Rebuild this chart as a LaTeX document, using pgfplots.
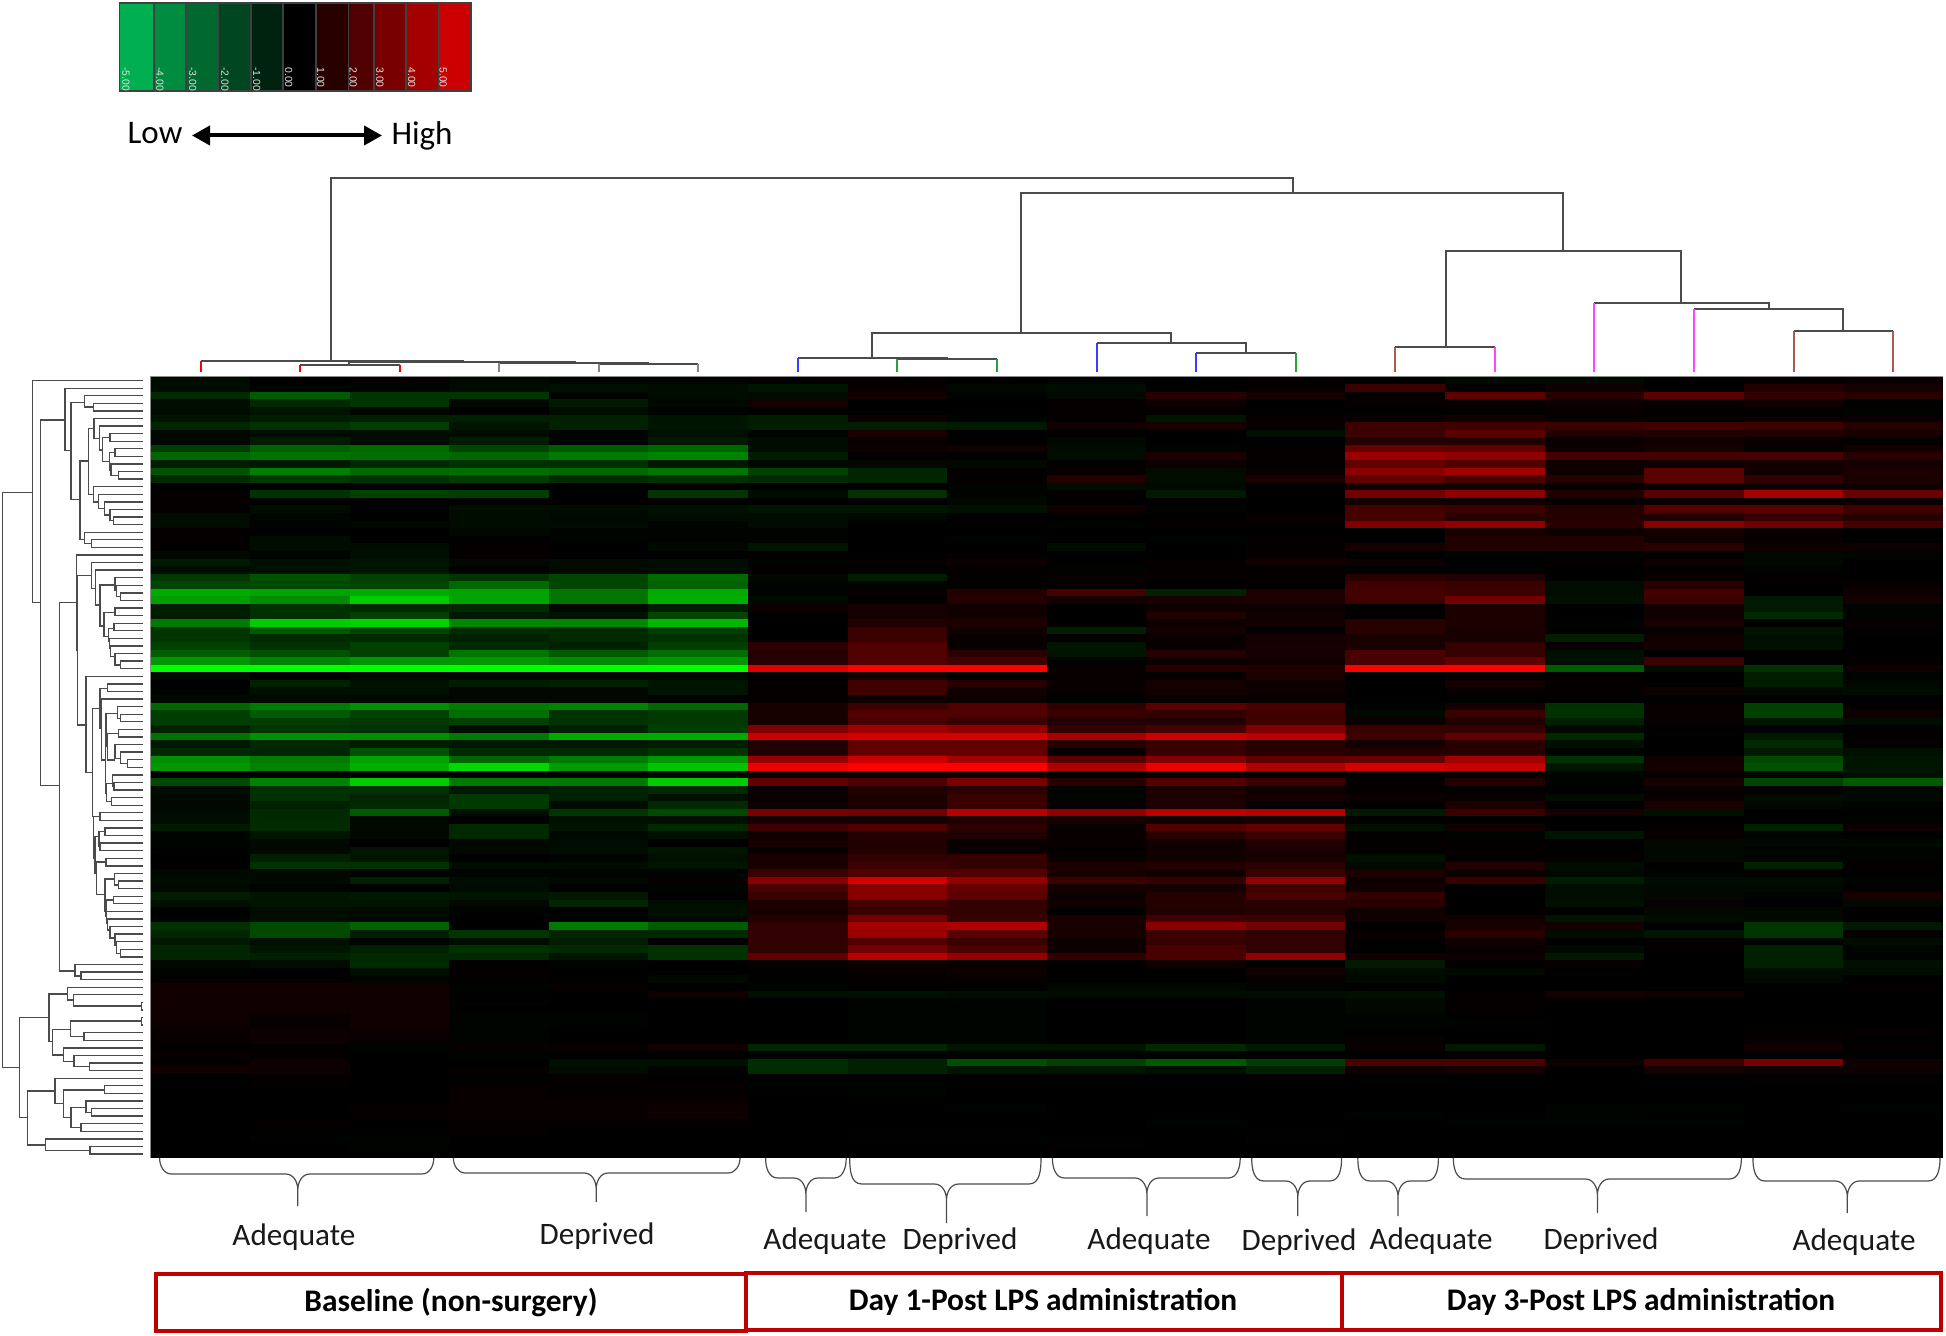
\documentclass[border=0pt]{standalone}
\usepackage{fontspec}
\setmainfont{Carlito}
\newfontfamily\libsans{Liberation Sans}
\usepackage{pgfplots}
\usepackage{pgfplotstable}
\pgfplotsset{compat=1.18}
\usetikzlibrary{arrows.meta}

\definecolor{boxred}{RGB}{192,0,0}
\definecolor{lineg}{RGB}{75,75,75}
\definecolor{leafgray}{RGB}{135,135,135}
\definecolor{leafblue}{RGB}{60,60,255}
\definecolor{leafgreen}{RGB}{40,160,60}
\definecolor{leafmag}{RGB}{255,70,255}
\definecolor{leafbrown}{RGB}{170,90,80}
\definecolor{k1}{RGB}{0,176,80}
\definecolor{k2}{RGB}{0,140,64}
\definecolor{k3}{RGB}{0,105,48}
\definecolor{k4}{RGB}{0,70,32}
\definecolor{k5}{RGB}{0,35,16}
\definecolor{k6}{RGB}{0,0,0}
\definecolor{k7}{RGB}{40,0,0}
\definecolor{k8}{RGB}{80,0,0}
\definecolor{k9}{RGB}{120,0,0}
\definecolor{k10}{RGB}{165,0,0}
\definecolor{k11}{RGB}{204,0,0}

% one cell of the heat map, 99.57 x 7.58 px at 0.5pt per px
\pgfdeclareplotmark{cell}{%
  \pgfpathrectangle{\pgfpoint{-24.93pt}{-1.93pt}}{\pgfpoint{49.86pt}{3.86pt}}%
  \pgfusepathqfill}

% 103 rows, 18 samples; 1 unit = 40/255 of full colour
\pgfplotstableread[header=false]{
-0.3 0 0.15 -0.2 -0.1 -0.1 0.1 0.1 0 -0.1 0 0.1 0 -0.2 -0.2 0 0.1 0.2
-0.3 -0.1 -0.1 -0.3 -0.4 -0.3 -0.5 0.2 -0.2 -0.3 0 0.1 1.4 0.1 0.3 0 0.8 0.5
-1.0 -2.2 -1.3 -1.3 -0.1 -0.3 -0.2 0.4 -0.1 -0.2 1.0 0.5 0.1 2.3 1.0 2.2 1.2 1.0
-0.3 -1.0 -1.3 -0.2 -0.6 -0.2 0.5 0 0 0.1 0.3 0 0.2 0.2 0.3 0.2 0.4 0
-0.3 -0.5 -0.2 0 -0.3 -0.1 0 0 0 0.1 0.1 0 0 0.1 0.2 0.1 0.1 -0.1
-0.5 -0.7 -0.8 -0.8 -0.8 -0.5 -0.7 0.3 -0.1 0.1 -0.5 0.2 0.2 0.4 0.1 0.1 0.2 0.2
-0.9 -1.2 -1.5 -0.5 -0.8 -0.5 -0.7 -0.7 -0.6 0.4 0.6 0.2 1.5 1.6 1.5 1.6 1.5 0.9
-0.2 -0.3 -0.3 -0.3 -0.1 -0.4 -0.1 0.6 0 0 0 -0.4 1.5 2.2 0.8 0.8 0.8 0.6
-0.2 -0.7 -0.3 -0.7 -0.1 -0.6 -0.3 0.2 0 -0.2 0 0 0.8 0.8 0.2 0.4 0.2 0.1
-1.5 -2.4 -2.6 -1.7 -2.2 -2.5 -0.3 0.3 0.4 -0.3 -0.1 0.1 2.5 2.4 0.3 0.5 0.1 0.4
-2.5 -2.8 -2.7 -2.5 -3.0 -3.2 -0.7 0.1 0 -0.3 0.7 0.1 3.8 3.5 1.7 1.7 1.8 1.0
-0.7 -0.6 -1.0 -1.2 -1.2 -0.6 -0.2 -0.2 -0.2 0.1 0.3 0.1 2.4 2.0 0.3 0.4 0.5 0.5
-2.0 -3.1 -2.6 -2.7 -2.6 -2.9 -1.6 -0.9 0.1 0.2 -0.3 0.2 3.4 4.0 0.3 2.2 0.4 0.7
-1.0 -1.4 -1.2 -1.5 -1.0 -1.2 -1.0 -0.9 0.1 0.9 -0.3 0.7 2.4 1.8 1.0 2.2 1.2 0.7
0 0 0 0 0 0 0 0 -0.1 -0.3 -0.2 0 0.4 0.4 0.1 0.2 0.3 0.3
0.05 -1.2 -1.6 -1.5 0 -1.3 -0.3 -1.2 -0.1 0.1 -0.6 0 2.8 3.5 0.8 2.2 4.1 2.6
0.1 0 0 0 0 0 0 0 -0.2 0 0 0 0.4 0.4 0.2 0.2 0.2 0.2
0.05 -0.3 0 -0.3 -0.3 -0.4 -0.5 -0.5 -0.4 0.4 -0.1 0 1.7 1.5 0.9 2.1 2.2 1.6
-0.3 -0.1 0 -0.3 -0.2 -0.3 -0.3 -0.2 0 0 0 0.2 1.7 1.0 0.9 0.8 1.3 1.0
-0.3 -0.1 -0.2 -0.3 -0.3 -0.1 -0.3 0 0.1 -0.1 0.1 0.1 3.1 3.5 1.0 3.2 2.7 1.7
0.05 0 0 -0.2 -0.1 -0.1 -0.1 0 0 0 0 0 0 0.6 0.3 0.5 0.2 0
0.1 -0.3 0 0 -0.1 -0.1 -0.1 0 -0.1 0 -0.1 0.1 0 0.8 0.8 0.4 0.2 0
0.1 -0.3 -0.3 0.1 0 -0.2 -0.5 0 0 -0.3 0 0.1 0.5 0.8 0.8 1.0 0.3 0.3
-0.2 -0.1 -0.4 0.1 0 0 0.1 0 0.1 0 0 0.2 0 -0.1 -0.1 0 -0.2 -0.1
-0.6 -0.4 -0.5 -0.2 -0.3 -0.3 -0.1 0.2 0.3 0 0.1 0.4 0.3 0 0.1 0.3 -0.2 0
-0.3 -0.4 -0.5 0 -0.2 -0.3 0.1 0 0.1 -0.1 0.1 0.1 0 0 0 0.1 -0.1 0
-1.4 -2.0 -1.6 -1.3 -1.7 -2.6 -0.2 -0.7 0.1 0.2 0.1 0.1 1.0 0.8 0 0.2 0.1 0
-1.7 -1.8 -1.7 -2.6 -1.7 -2.4 -0.1 -0.1 0.1 0.1 0 0 1.6 1.4 -0.3 1.0 0 0.2
-4.2 -4.0 -4.2 -4.0 -2.9 -4.2 -0.1 0.2 0.8 1.7 -0.8 0.7 1.7 1.5 -0.3 1.6 0 0.3
-3.9 -3.4 -5.0 -4.0 -2.9 -4.3 -0.2 0.1 0.9 0.5 0.6 0.7 1.6 2.8 -0.4 1.5 -0.6 0.5
-0.7 -1.2 -1.0 -1.0 -0.2 -0.7 0.3 0.5 0.4 0 0.3 0.3 0 0.7 0 0.4 -0.6 -0.1
-0.7 -1.2 -1.6 -0.6 -0.5 -1.7 0 0.5 0.4 0 0.8 0.4 0 0.7 0 0.4 -1.0 -0.1
-3.0 -5.0 -5.2 -3.3 -3.3 -4.5 0 0.8 0.7 0 0.3 0.4 1.0 0.7 -0.1 0.6 0 0.2
-1.3 -2.2 -1.7 -1.1 -1.0 -1.5 0 1.4 0.4 -0.8 0.5 0 1.0 0.6 0.1 0.1 -0.5 0
-1.3 -1.0 -1.0 -0.8 -1.0 -1.2 0 1.4 0.2 0.1 0.2 0.5 0.6 0.6 -0.7 0.4 -0.4 0
-1.6 -1.2 -1.6 -1.0 -0.8 -1.5 1.1 2.0 0.2 -0.5 0.2 0.6 0.6 1.3 0.2 0.5 -0.4 0
-2.3 -2.0 -1.6 -2.9 -2.2 -2.7 0.9 2.0 1.0 -0.5 0.9 0.6 1.8 1.3 -0.4 0 0 0
-3.7 -3.2 -3.7 -3.7 -3.4 -3.7 0.9 2.0 1.6 -0.1 0.3 0.4 1.8 2.4 -0.4 1.5 0 0.1
-6.25 -6.25 -6.25 -6.25 -6.25 -6.25 5.4 6.25 6.25 0.2 0.9 0.8 6.25 6.25 -2.2 -0.3 -1.2 0.3
-0.3 0 -0.2 -0.2 -0.2 -0.2 0.1 0.5 0.1 0.2 0.1 0.7 0 0.1 0.1 0 -0.7 -0.1
0 -0.8 -0.4 -0.7 -0.8 -0.5 0.1 1.6 1.0 0.2 0.5 0.3 0 0.5 0.1 0 -0.7 -0.2
-0.1 -0.4 -0.4 -0.2 -0.2 -0.5 0.1 1.6 0.4 0.2 0.4 0.3 0 0.2 0.1 0.3 -0.2 -0.3
-0.2 -0.2 -0.2 -0.2 -0.2 0 0.1 0.3 0.3 0 0.2 0.2 0 0 0 0 0 0
-2.5 -3.0 -3.5 -3.0 -3.2 -2.5 0.6 1.5 2.0 1.2 2.2 1.8 -0.1 0.5 -1.2 0.2 -1.6 0.1
-1.5 -2.2 -1.6 -2.7 -1.2 -1.4 0.6 2.0 2.0 1.4 1.2 1.6 -0.2 1.4 -1.2 0.2 -1.6 0.3
-1.5 -1.5 -1.4 -1.6 -1.2 -1.4 0.6 1.8 1.4 0.8 0.8 1.6 0.3 0.8 -0.8 0.2 -0.5 -0.3
-0.8 -1.3 -1.2 -0.3 -0.8 -1.5 3.1 3.9 3.5 1.3 1.7 3.1 1.4 1.2 -0.2 0 0 0
-2.8 -3.5 -3.5 -3.0 -4.2 -4.2 4.9 5.2 5.2 4.1 5.0 4.5 1.5 2.4 -1.0 0 -0.6 0.1
-0.6 -1.0 -0.7 -0.6 -0.6 -0.7 0.8 2.4 2.4 1.0 1.4 1.0 0.5 1.0 -0.4 0 -1.0 0.1
-1.0 -0.9 -2.0 -1.0 -1.0 -1.3 0.8 2.4 2.4 0.2 1.4 1.0 0.9 1.0 -0.1 0 -0.6 -0.4
-3.5 -3.0 -4.0 -2.5 -3.0 -3.7 3.7 5.0 4.1 2.2 3.2 2.4 2.5 4.0 -1.2 0.4 -1.8 -0.5
-3.7 -3.2 -4.3 -5.3 -3.8 -4.8 5.8 6.25 6.25 4.3 5.8 4.3 5.2 4.8 -0.5 0.5 -2.0 -0.5
0 -0.1 -0.1 -0.1 -0.1 -0.2 0.3 0.3 0.3 0 0.2 0.2 0.1 0.1 -0.1 0.2 -0.2 -0.4
-1.8 -3.2 -5.0 -3.0 -3.0 -5.0 2.4 1.9 3.0 1.0 2.1 1.5 0.1 0.9 -0.1 0.6 -1.7 -2.2
-0.3 -1.2 -1.2 -0.6 -0.8 -1.0 0.2 0.8 1.0 -0.1 0.7 0.3 0.1 0.1 0 0.2 0 -0.2
-0.2 -1.2 -0.9 -1.4 -0.8 -0.4 0.2 0.7 1.4 -0.1 0.7 0.5 0.3 0.2 -0.3 0.2 -0.3 -0.2
-0.2 -0.8 -1.0 -1.4 -0.3 -1.0 0.3 0.7 1.4 0.2 0.7 0.1 0 0.7 0 0.7 -0.2 -0.1
-0.3 -1.0 -2.2 -0.4 -1.3 -1.8 3.0 2.8 4.5 3.5 4.6 4.4 -0.6 1.4 0.6 -0.4 0 0
-0.3 -1.0 -0.2 0 -0.4 -0.4 0.5 0.5 0.8 0.6 0.4 0.5 0 0 0 0 0 -0.1
-0.6 -1.1 -0.2 -1.0 -0.5 -1.0 1.6 2.0 1.1 0.2 2.0 2.4 -0.4 0.4 0 0.1 -0.8 0.3
-0.1 -0.5 -0.2 -1.0 -0.2 -0.4 0.4 0.9 0.8 0.2 1.0 1.5 0.1 -0.1 -0.5 0.2 -0.1 0
-0.1 -0.2 0 -0.2 -0.3 0 0.6 0.8 0.2 0.2 0.4 0.8 0.1 0.1 0 -0.2 -0.2 -0.2
-0.1 -0.2 -0.5 -0.2 -0.3 -0.5 0.2 0.8 0.2 0.1 0.4 0.6 0.1 0.1 0 -0.2 -0.1 -0.1
0 -0.8 -0.5 0 -0.1 -0.4 0.6 1.2 1.3 0.2 0.4 0.6 -0.4 0.1 0.1 -0.2 -0.1 -0.1
0 -1.2 -1.2 -0.3 -0.3 -0.5 0.6 1.5 1.3 0.7 0.9 1.0 -0.2 0.8 -0.3 0.1 -0.8 0.1
-0.2 -0.2 -0.1 -0.1 -0.1 -0.1 1.4 2.0 2.0 0.6 0.4 1.4 0.7 0.3 -0.2 -0.1 0.1 0
-0.3 -0.2 -0.8 -0.3 -0.2 0.2 3.4 5.2 3.6 1.5 1.3 3.6 0.3 1.3 -0.7 -0.3 -0.3 -0.1
-0.2 -0.1 0 -0.3 0 -0.1 1.8 3.3 2.5 0.5 0.5 1.6 0.4 0 -0.3 -0.2 -0.2 0.1
-0.7 -0.5 -0.6 -0.5 -0.6 0 1.4 3.3 2.2 0.3 0.9 1.8 1.2 0 -0.3 -0.2 -0.1 0.6
-0.4 -0.5 -0.5 -0.2 -0.9 -0.3 0.7 1.7 1.2 0.4 0.9 1.0 1.0 0 -0.4 0.2 0 -0.2
0 -0.3 -0.3 -0.1 0 -0.4 0.6 1.4 1.2 0 0.8 0.9 0.4 0 0 -0.2 -0.2 0
-0.1 -0.3 -0.2 0 -0.1 -0.2 0.8 2.8 1.3 0.6 1.6 1.4 0.4 0.4 -0.5 -0.3 -0.2 0
-1.2 -1.8 -2.4 0 -3.0 -2.2 1.2 4.0 4.3 0.6 3.4 2.8 0 0.6 0.5 0 -1.3 -0.6
-0.9 -1.8 -0.7 -1.3 -0.9 -1.0 1.2 3.8 2.2 0.6 1.5 1.2 0.2 1.0 -0.3 -0.5 -1.3 0.2
-0.6 -0.4 -0.1 -0.3 -0.7 0 1.2 2.0 1.4 0.3 1.3 1.2 0.1 0.4 0 0.1 -0.1 -0.3
-0.9 -0.5 -0.8 -1.2 -1.0 -1.2 1.2 2.8 1.9 0.3 1.8 1.2 0 0.2 -0.2 0.1 -0.8 -0.1
-0.9 -0.8 -1.0 -1.0 -0.5 -1.2 2.3 4.5 3.6 1.2 1.8 3.5 0.4 0.3 -0.6 0 -0.8 -0.1
-0.2 -0.3 -1.0 0.1 -0.1 0 0.2 0.3 0.2 0 0.4 0 -0.6 0.1 0.2 0 -0.8 -0.4
-0.1 0 -0.4 0.1 0 0 0 0.2 0.3 0 0 0.4 -0.3 -0.2 0 0 -0.3 -0.3
0.1 0.1 -0.1 0.1 0 -0.2 0 0.1 0.2 0 0 0.2 -0.2 0 0 0 -0.2 0
0.4 0.4 0.4 -0.1 0.2 0 -0.1 0 0 -0.2 -0.2 -0.1 0 0 0 0 0 0.1
0.4 0.4 0.4 0 0 0.4 -0.4 -0.4 -0.3 -0.3 -0.3 -0.3 -0.4 0.1 0.5 0.4 0 0
0.4 0.4 0.4 -0.1 0 0 0 -0.1 -0.1 0 0 -0.1 -0.2 0.1 0 0 0 0
0.4 0.4 0.4 0 0 0 0 -0.1 -0.1 0 0 -0.1 -0.2 0.1 0 0 0 0
0.4 0.2 0.4 -0.1 -0.1 0 0 -0.1 -0.1 0 0 -0.1 -0.1 0 0 0 0 0
0.3 0.2 0.4 -0.1 -0.1 0 0 -0.1 -0.1 0 0 -0.1 -0.1 -0.1 0 0 0 0
0.2 0.3 0.3 -0.1 0 0 0 -0.1 -0.1 0 0 -0.1 0 0 0 0 0.1 0.1
0.2 0.3 0.2 -0.1 0 0 0 -0.1 -0.1 0 0 -0.1 0.2 0 0 0 0.2 0
0.1 0.1 -0.1 0.2 0.2 0.4 -0.9 -0.9 -0.5 -0.5 -1.0 -0.6 0.2 -0.6 0 0 0.4 0.1
0.2 0.1 0 -0.1 0 0 -0.1 -0.1 -0.1 -0.1 -0.1 0 0 0.1 0 0 0 0
0.1 0.3 0 0 -0.4 -0.4 -1.1 -0.8 -1.9 -1.6 -2.2 -1.5 1.8 1.8 0.3 1.5 3.0 0.4
0.4 0.3 0 0.2 -0.3 -0.1 -1.1 -0.8 -0.5 -0.5 -0.4 -0.8 0.3 0.5 0 0.5 0.3 0.3
0 0.1 0 0 0.1 0 0 0 0 0 0 0 0 0 0 0 0 0
0 0.1 0 0.1 0.1 0.1 -0.1 -0.1 0 0 0 0 0 0 0 0 0 0
0 0 0 0.2 0.1 0.1 0 -0.1 0 0 0 0 0 0 0 0 0 0
0 0 0 0.2 0.2 0.2 0 0 0 0 0 0 0 0 0 0 0 0
0 0 0.1 0.2 0.2 0.3 0 0 -0.1 0 0 0 0 0 -0.1 -0.1 0 -0.1
0 0 0.1 0.2 0.2 0.3 0 0 0 0 0 0 -0.1 0 -0.1 0 0 0
0 0.1 0 0.1 0.1 0.1 0 0 0 0 -0.1 0 0 -0.1 -0.1 -0.1 0 0
0 0 0 0.1 0 0 0 0 0 0 0 0 0 0 0 0 0 0
0 -0.1 -0.1 0 0 0 0 -0.1 -0.1 0 0 -0.1 0 0 0 0 0 0
0 0 -0.1 0 0 0 0 0 0 0.1 0 0 0 0 0 0 0 0
0 0 0 0 0 0 0 0 0 0 0 0 0 0 0 0 0 0
}\heat

\pgfplotsset{
  lden/.style={draw=lineg, line width=0.8pt},
  tden/.style={draw=lineg, line width=1pt},
}

% bracket of the row tree: x, top y, top child x, bottom y, bottom child x
\newcommand\lb[5]{\addplot[lden] table[row sep=\\, header=false,
  x expr=\thisrowno{0}/3, y expr=370+\thisrowno{1}/3] {#3 #2\\#1 #2\\#1 #4\\#5 #4\\};}
% bracket of the sample tree: left x, right x, bar y, left end y, right end y
\newcommand\tb[5]{\addplot[tden] coordinates {(#1,#4)(#1,#3)(#2,#3)(#2,#5)};}
% coloured last stem of a sample
\newcommand\st[3]{\addplot[draw=#3, line width=1pt] coordinates {(#1,#2)(#1,371.7)};}
% colour key cell
\newcommand\kc[3]{\addplot[draw=black!75, line width=0.8pt, fill=#3] coordinates {(#1,3)(#2,3)(#2,91)(#1,91)} -- cycle;}
\newcommand\kl[2]{\node[rotate=-90, anchor=west, inner sep=0pt, text=white!88!black,
  font=\libsans\fontsize{5.2}{6}\selectfont] at (axis cs:#1,67) {#2};}
\newcommand\cb[5]{\draw[draw=black!70, line width=0.6pt]
  (axis cs:#1,1158) to[out=-90,in=180] ([xshift=6pt]axis cs:#1,#4)
  -- ([xshift=-6pt]axis cs:#3,#4) to[out=0,in=90] ([yshift=-8pt]axis cs:#3,#4)
  -- (axis cs:#3,#5) -- ([yshift=-8pt]axis cs:#3,#4)
  to[out=90,in=180] ([xshift=6pt]axis cs:#3,#4)
  -- ([xshift=-6pt]axis cs:#2,#4) to[out=0,in=-90] (axis cs:#2,1158);}
\newcommand\lab[3]{\node[font=\fontsize{15.6}{18}\selectfont, text=black!90, inner sep=0pt]
  at (axis cs:#1,#2) {#3};}
\newcommand\grp[6]{\draw[draw=boxred, line width=2pt]
  (axis cs:#1,#3) rectangle (axis cs:#2,#4);
  \node[font=\fontsize{15.7}{18}\selectfont\bfseries, inner sep=0pt]
  at (axis cs:#5,1302) {#6};}

\begin{document}
\begin{tikzpicture}
\begin{axis}[
    x=0.5pt, y=0.5pt,
    xmin=0, xmax=1946, ymin=0, ymax=1336,
    y dir=reverse,
    hide axis,
    clip=false,
    colormap={greenred}{rgb255(0cm)=(0,255,0); rgb255(1cm)=(0,0,0); rgb255(2cm)=(255,0,0)},
    point meta min=-6.25, point meta max=6.25,
]
\path (axis cs:0,0) rectangle (axis cs:1946,1336);

%% heat map, one plot per sample
\pgfplotsinvokeforeach{0,...,17}{
  \addplot[scatter, only marks, mark=cell, scatter src=explicit]
    table[x expr={150.7+99.57*(#1+0.5)}, y expr={376.7+7.58*(\coordindex+0.5)}, meta index=#1] {\heat};
}
\addplot[draw=black!45, line width=0.6pt] coordinates {(150.7,1157.9)(150.7,376.5)(1943,376.5)};

%% colour key
\kc{119.3}{154}{k1}
\kc{154}{186}{k2}
\kc{186}{218.3}{k3}
\kc{218.3}{250.7}{k4}
\kc{250.7}{283}{k5}
\kc{283}{315.7}{k6}
\kc{315.7}{348.3}{k7}
\kc{348.3}{374}{k8}
\kc{374}{406}{k9}
\kc{406}{438.3}{k10}
\kc{438.3}{470.7}{k11}
\kl{126}{-5.00}
\kl{160}{-4.00}
\kl{192.7}{-3.00}
\kl{225}{-2.00}
\kl{256.7}{-1.00}
\kl{288.7}{0.00}
\kl{320.7}{1.00}
\kl{353.3}{2.00}
\kl{380}{3.00}
\kl{411.7}{4.00}
\kl{443.3}{5.00}

\node[font=\fontsize{16.5}{20}\selectfont, inner sep=0pt] at (axis cs:155,133) {Low};
\node[font=\fontsize{16.5}{20}\selectfont, inner sep=0pt] at (axis cs:422,136) {High};
\addplot[draw=black, line width=2pt, {Triangle[length=9pt,width=9.5pt]}-{Triangle[length=9pt,width=9.5pt]}]
  coordinates {(192,135.5)(382,135.5)};

%% sample tree
\tb{330.8}{1292.5}{178.3}{360.7}{192.7}
\tb{1021.4}{1563.4}{192.7}{332.7}{251.3}
\tb{872.2}{1171.1}{332.7}{358.3}{342.7}
\tb{797.9}{946.8}{358.3}{358.3}{359.3}
\tb{897.4}{997}{359.3}{359.3}{359.3}
\tb{1096.6}{1245.7}{342.7}{342.7}{352.7}
\tb{1196.1}{1295.7}{352.7}{352.7}{352.7}
\tb{1445.5}{1681}{251.3}{347.3}{303.3}
\tb{1395.3}{1494.8}{347.3}{347.3}{347.3}
\tb{1594.4}{1768.5}{303.3}{303.3}{308.7}
\tb{1694}{1843}{308.7}{308.7}{331}
\tb{1793.5}{1893.1}{331}{331}{331}
\tb{200.5}{462.9}{360.7}{360.7}{361.7}
\tb{349.2}{574.8}{361.7}{364.7}{362.7}
\tb{300}{399.6}{364.7}{364.7}{364.7}
\tb{499.2}{648.3}{362.7}{362.7}{363.7}
\tb{598.7}{698.3}{363.7}{363.7}{363.7}
\st{200.5}{360.7}{red}
\st{300}{364.7}{red}
\st{399.6}{364.7}{red}
\st{499.2}{362.7}{leafgray}
\st{598.7}{363.7}{leafgray}
\st{698.3}{363.7}{leafgray}
\st{797.9}{358.3}{leafblue}
\st{897.4}{359.3}{leafgreen}
\st{997}{359.3}{leafgreen}
\st{1096.6}{342.7}{leafblue}
\st{1196.1}{352.7}{leafblue}
\st{1295.7}{352.7}{leafgreen}
\st{1395.3}{347.3}{leafbrown}
\st{1494.8}{347.3}{leafmag}
\st{1594.4}{303.3}{leafmag}
\st{1694}{308.7}{leafmag}
\st{1793.5}{331}{leafbrown}
\st{1893.1}{331}{leafbrown}

%% row tree
\lb{8}{367}{98}{2093}{58}
\lb{98}{32}{430}{698}{122}
\lb{122}{150}{195}{1247}{178}
\lb{195}{55}{430}{242}{213}
\lb{213}{97}{253}{388}{240}
\lb{253}{77}{430}{111}{280}
\lb{280}{100}{430}{123}{430}
\lb{240}{273}{266}{508}{253}
\lb{266}{175}{282}{373}{280}
\lb{282}{145}{430}{205}{298}
\lb{298}{168}{430}{240}{308}
\lb{308}{203}{330}{275}{328}
\lb{330}{191}{430}{214}{430}
\lb{328}{248}{345}{300}{333}
\lb{345}{236}{430}{259}{430}
\lb{333}{282}{430}{317}{355}
\lb{355}{305}{430}{327}{430}
\lb{280}{350}{430}{396}{296}
\lb{296}{373}{430}{415}{314}
\lb{314}{396}{430}{435}{330}
\lb{330}{418}{430}{452}{341}
\lb{341}{441}{430}{464}{430}
\lb{253}{487}{430}{520}{275}
\lb{275}{509}{430}{532}{430}
\lb{178}{698}{232}{1803}{225}
\lb{230}{555}{430}{840}{232}
\lb{232}{617}{275}{1065}{258}
\lb{275}{578}{430}{655}{287}
\lb{287}{600}{430}{705}{300}
\lb{300}{645}{345}{768}{312}
\lb{345}{623}{430}{660}{350}
\lb{350}{646}{430}{680}{361}
\lb{361}{669}{430}{691}{430}
\lb{312}{728}{345}{800}{325}
\lb{345}{714}{430}{737}{430}
\lb{325}{775}{342}{815}{328}
\lb{342}{760}{430}{782}{430}
\lb{328}{805}{430}{835}{332}
\lb{332}{828}{430}{860}{345}
\lb{345}{851}{430}{885}{361}
\lb{361}{873}{430}{896}{430}
\lb{258}{919}{430}{1208}{278}
\lb{278}{1015}{300}{1340}{280}
\lb{300}{955}{323}{1075}{305}
\lb{323}{942}{430}{964}{430}
\lb{305}{987}{430}{1170}{316}
\lb{316}{1080}{318}{1270}{320}
\lb{318}{1030}{352}{1130}{322}
\lb{352}{1010}{430}{1045}{361}
\lb{361}{1033}{430}{1055}{430}
\lb{322}{1090}{355}{1170}{345}
\lb{355}{1078}{430}{1101}{430}
\lb{345}{1124}{430}{1165}{361}
\lb{361}{1146}{430}{1180}{382}
\lb{382}{1169}{430}{1192}{430}
\lb{320}{1240}{338}{1295}{335}
\lb{338}{1215}{430}{1248}{342}
\lb{342}{1237}{430}{1260}{430}
\lb{335}{1283}{430}{1306}{430}
\lb{280}{1340}{300}{1465}{285}
\lb{300}{1328}{430}{1351}{430}
\lb{285}{1400}{297}{1510}{290}
\lb{297}{1385}{315}{1430}{300}
\lb{315}{1374}{430}{1397}{430}
\lb{300}{1419}{430}{1442}{430}
\lb{290}{1476}{318}{1573}{315}
\lb{318}{1465}{430}{1488}{430}
\lb{315}{1527}{343}{1625}{318}
\lb{343}{1510}{430}{1545}{355}
\lb{355}{1533}{430}{1556}{430}
\lb{318}{1590}{340}{1640}{320}
\lb{340}{1579}{430}{1601}{430}
\lb{320}{1624}{430}{1660}{323}
\lb{323}{1647}{430}{1680}{330}
\lb{330}{1670}{430}{1704}{345}
\lb{345}{1692}{430}{1725}{350}
\lb{350}{1715}{430}{1750}{361}
\lb{361}{1738}{430}{1761}{430}
\lb{225}{1783}{430}{1818}{243}
\lb{243}{1806}{430}{1829}{430}
\lb{58}{1943}{147}{2243}{82}
\lb{147}{1872}{202}{2015}{158}
\lb{202}{1852}{430}{1890}{220}
\lb{220}{1874}{430}{1908}{425}
\lb{425}{1897}{430}{1920}{430}
\lb{158}{1978}{212}{2055}{190}
\lb{212}{1953}{425}{2000}{252}
\lb{425}{1943}{430}{1965}{430}
\lb{252}{1988}{430}{2011}{430}
\lb{190}{2034}{430}{2075}{222}
\lb{222}{2056}{430}{2090}{268}
\lb{268}{2079}{430}{2102}{430}
\lb{82}{2163}{165}{2325}{137}
\lb{165}{2125}{430}{2200}{190}
\lb{190}{2160}{313}{2243}{213}
\lb{313}{2147}{430}{2170}{430}
\lb{213}{2212}{258}{2273}{243}
\lb{258}{2193}{430}{2227}{275}
\lb{275}{2216}{430}{2238}{430}
\lb{243}{2261}{430}{2284}{430}
\lb{137}{2307}{430}{2342}{270}
\lb{270}{2329}{430}{2352}{430}

%% braces, labels, group boxes
\cb{159.6}{433.8}{297.8}{1174}{1206}
\cb{453.4}{740}{596.2}{1173}{1202}
\cb{765.6}{846.2}{805.9}{1178}{1212}
\cb{849.7}{1041}{946.5}{1184}{1223}
\cb{1052.4}{1240.2}{1146.9}{1178}{1216}
\cb{1251.7}{1341.6}{1297.8}{1181}{1216}
\cb{1357.8}{1438.4}{1398}{1181}{1216}
\cb{1453.3}{1741.4}{1597.4}{1179}{1213}
\cb{1752.9}{1940}{1847.3}{1181}{1213}
\lab{294}{1237.5}{Adequate}
\lab{597}{1236.5}{Deprived}
\lab{825}{1241.5}{Adequate}
\lab{960}{1241.5}{Deprived}
\lab{1149}{1241.5}{Adequate}
\lab{1299}{1242}{Deprived}
\lab{1431}{1241.5}{Adequate}
\lab{1601}{1241.5}{Deprived}
\lab{1854}{1242.5}{Adequate}
\grp{156}{746}{1274}{1331}{451}{Baseline (non-surgery)}
\grp{746}{1342}{1273}{1330}{1043}{Day 1-Post LPS administration}
\grp{1342}{1941}{1273}{1330}{1641}{Day 3-Post LPS administration}
\end{axis}
\end{tikzpicture}
\end{document}
